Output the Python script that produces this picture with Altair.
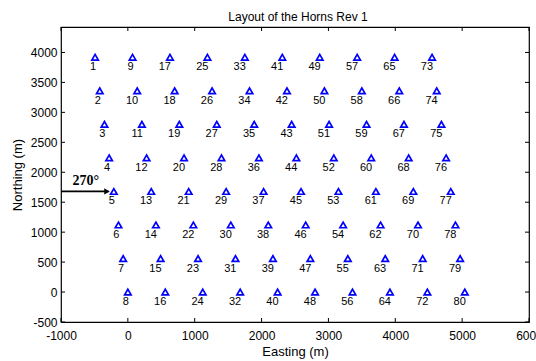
import altair as alt
import pandas as pd

# Turbine layout of Horns Rev 1 (rows listed from north to south)
row_northing = [3920, 3360, 2800, 2240, 1680, 1120, 560, 0]
row_easting = [
    [-490, 70, 630, 1190, 1750, 2310, 2870, 3430, 3990, 4550],
    [-420, 140, 700, 1260, 1820, 2380, 2940, 3500, 4060, 4620],
    [-350, 210, 770, 1330, 1890, 2450, 3010, 3570, 4130, 4690],
    [-280, 280, 840, 1400, 1960, 2520, 3080, 3640, 4200, 4760],
    [-210, 350, 910, 1470, 2030, 2590, 3150, 3710, 4270, 4830],
    [-140, 420, 980, 1540, 2100, 2660, 3220, 3780, 4340, 4900],
    [-70, 490, 1050, 1610, 2170, 2730, 3290, 3850, 4410, 4970],
    [0, 560, 1120, 1680, 2240, 2800, 3360, 3920, 4480, 5040],
]
row_ids = [
    [1, 9, 17, 25, 33, 41, 49, 57, 65, 73],
    [2, 10, 18, 26, 34, 42, 50, 58, 66, 74],
    [3, 11, 19, 27, 35, 43, 51, 59, 67, 75],
    [4, 12, 20, 28, 36, 44, 52, 60, 68, 76],
    [5, 13, 21, 29, 37, 45, 53, 61, 69, 77],
    [6, 14, 22, 30, 38, 46, 54, 62, 70, 78],
    [7, 15, 23, 31, 39, 47, 55, 63, 71, 79],
    [8, 16, 24, 32, 40, 48, 56, 64, 72, 80],
]

x_ticks = [-1000, 0, 1000, 2000, 3000, 4000, 5000, 6000]
y_ticks = [-500, 0, 500, 1000, 1500, 2000, 2500, 3000, 3500, 4000]
x_domain = [-1000, 6000]
y_domain = [-500, 4425]

# wind direction annotation
arrow_x = [-1000, -290]
arrow_y = 1680
arrow_head_x = -312
arrow_label = "270°"
arrow_label_pos = [-630, 1740]

rows = []
for y, xs_, ids in zip(row_northing, row_easting, row_ids):
    for x, i in zip(xs_, ids):
        rows.append({"E": x, "N": y, "id": str(i)})
df = pd.DataFrame(rows)

W, H = 468, 295
FONT = "Liberation Sans"

xs = alt.Scale(domain=x_domain, nice=False, zero=False)
ys = alt.Scale(domain=y_domain, nice=False, zero=False)
xax = alt.Axis(values=x_ticks, grid=False, domain=False, ticks=False,
               labelPadding=8, labelFontSize=12, labelFont=FONT,
               labelColor="black", titleFontSize=13, titleFont=FONT,
               titleFontWeight="normal", titleColor="black",
               titlePadding=4, labelExpr="'' + datum.value", labelFlush=False)
yax = alt.Axis(values=y_ticks, grid=False, domain=False, ticks=False,
               labelPadding=4, labelFontSize=12, labelFont=FONT,
               labelColor="black", titleFontSize=13, titleFont=FONT,
               titleFontWeight="normal", titleColor="black",
               titlePadding=6, labelExpr="'' + datum.value", labelFlush=False)
XT = "Easting (m)"
YT = "Northing (m)"


def X(f):
    return alt.X(f, scale=xs, axis=xax, title=XT)


def Y(f):
    return alt.Y(f, scale=ys, axis=yax, title=YT)


base = alt.Chart(df)
pts = base.mark_point(shape="triangle-up", filled=False, color="#0000FF",
                      strokeWidth=1.7, size=42, opacity=1).encode(
    x=X("E:Q"), y=Y("N:Q"))
labels = base.mark_text(align="right", baseline="middle", dx=1, dy=10,
                        fontSize=11, font=FONT, color="black").encode(
    x=X("E:Q"), y=Y("N:Q"), text="id:N")

adf = pd.DataFrame({"x": [arrow_x[0]], "x2": [arrow_x[1]], "y": [arrow_y]})
arrow = alt.Chart(adf).mark_rule(color="black", strokeWidth=1.6).encode(
    x=X("x:Q"), x2="x2:Q", y=Y("y:Q"))
hdf = pd.DataFrame({"x": [arrow_head_x], "y": [arrow_y]})
head = alt.Chart(hdf).mark_point(shape="triangle-right", filled=True, color="black",
                                 size=40, opacity=1).encode(x=X("x:Q"), y=Y("y:Q"))
tdf = pd.DataFrame({"x": [arrow_label_pos[0]], "y": [arrow_label_pos[1]], "t": [arrow_label]})
atext = alt.Chart(tdf).mark_text(font="Liberation Serif", fontWeight="bold",
                                 fontSize=14, baseline="bottom", align="center",
                                 color="black").encode(x=X("x:Q"), y=Y("y:Q"), text="t:N")

xt = pd.DataFrame({"tx": x_ticks})
yt = pd.DataFrame({"ty": y_ticks})
tick_bottom = alt.Chart(xt).mark_rule(color="black", strokeWidth=1).encode(
    x=X("tx:Q"), y=alt.value(H), y2=alt.value(H - 4))
tick_top = alt.Chart(xt).mark_rule(color="black", strokeWidth=1).encode(
    x=X("tx:Q"), y=alt.value(0), y2=alt.value(4))
tick_left = alt.Chart(yt).mark_rule(color="black", strokeWidth=1).encode(
    y=Y("ty:Q"), x=alt.value(0), x2=alt.value(4))
tick_right = alt.Chart(yt).mark_rule(color="black", strokeWidth=1).encode(
    y=Y("ty:Q"), x=alt.value(W), x2=alt.value(W - 4))

chart = alt.layer(pts, labels, arrow, head, atext,
                  tick_bottom, tick_top, tick_left, tick_right).properties(
    width=W, height=H,
    title=alt.TitleParams("Layout of the Horns Rev 1", fontSize=12, font=FONT,
                          fontWeight="normal", color="black", anchor="middle",
                          offset=3, dx=3),
    autosize=alt.AutoSizeParams(type="none"),
    padding={"left": 61, "top": 27, "right": 7, "bottom": 39},
    background="white",
).configure_view(stroke="black", strokeWidth=1.2)

chart.save("out.html", embed_options={"renderer": "svg", "actions": False})
